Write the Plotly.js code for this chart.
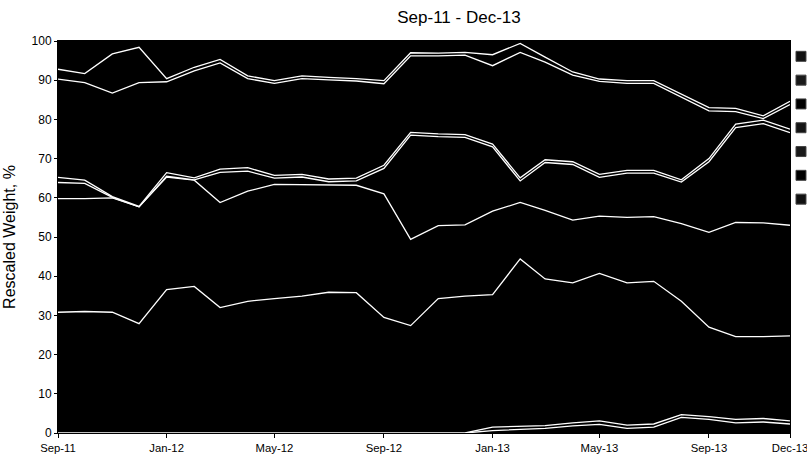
<!DOCTYPE html>
<html><head><meta charset="utf-8">
<script src="https://cdn.plot.ly/plotly-3.0.1.min.js"></script>
<style>html,body{margin:0;padding:0;background:#fff;overflow:hidden}</style>
</head><body>
<div id="chart" style="width:807px;height:456px"></div>
<script>
const months = ['2011-09-01','2011-10-01','2011-11-01','2011-12-01','2012-01-01','2012-02-01','2012-03-01','2012-04-01',
  '2012-05-01','2012-06-01','2012-07-01','2012-08-01','2012-09-01','2012-10-01','2012-11-01','2012-12-01',
  '2013-01-01','2013-02-01','2013-03-01','2013-04-01','2013-05-01','2013-06-01','2013-07-01','2013-08-01',
  '2013-09-01','2013-10-01','2013-11-01','2013-12-01'];

// series values (rescaled weight, %), bottom of the stack first
const s1 = [0,0,0,0,0,0,0,0,0,0,0,0,0,0,0,0,0.6,0.9,1.2,1.8,2.2,1.2,1.5,4.0,3.5,2.6,2.8,2.3];
const s2 = [0,0,0,0,0,0,0,0,0,0,0,0,0,0,0,0,0.9,0.9,0.7,0.8,0.9,0.8,0.8,0.7,0.7,0.9,0.9,0.8];
const s3 = [30.8,31.0,30.8,27.9,36.6,37.4,32.0,33.6,34.3,34.9,35.9,35.8,29.5,27.4,34.3,34.9,33.8,42.6,37.4,35.7,37.6,36.3,36.4,28.9,22.8,21.1,20.9,21.7];
const s4 = [29.0,28.8,29.2,29.8,28.7,27.1,26.8,28.1,29.1,28.4,27.4,27.4,31.5,22.0,18.6,18.2,21.3,14.4,17.5,16.0,14.6,16.7,16.5,19.8,24.2,29.1,29.0,28.2];
const s5 = [4.1,3.9,0.1,0.0,0.2,0.1,7.7,5.1,1.6,2.0,0.8,1.1,6.5,26.6,22.7,22.3,16.4,5.5,12.2,14.2,9.9,11.3,11.1,10.6,18.0,24.2,25.3,23.6];
const s6 = [1.3,0.8,0.2,0.1,0.9,0.5,0.8,0.9,0.7,0.7,0.7,0.7,0.8,0.7,0.7,0.7,0.7,0.8,0.7,0.7,0.8,0.7,0.7,0.6,0.8,0.9,0.9,0.9];
const s7 = [25.1,24.9,26.4,31.6,23.2,27.3,27.1,22.7,23.5,24.4,25.3,24.8,20.8,19.5,19.9,20.3,20.0,32.0,24.9,22.1,23.7,22.2,22.2,21.0,12.2,3.2,0.4,6.3];
const s8 = [2.5,2.3,10.0,9.0,0.8,0.9,0.9,0.7,0.7,0.7,0.6,0.6,0.8,0.8,0.7,0.7,2.8,2.3,1.3,0.8,0.6,0.7,0.7,0.8,0.8,0.8,0.7,0.8];
const s9 = [7.2,8.3,3.3,1.6,9.6,6.7,4.7,8.9,10.1,8.9,9.3,9.6,10.1,3.0,3.1,2.9,3.5,0.6,4.2,8.0,9.7,10.1,10.1,13.6,17.0,17.2,19.1,15.4];

// legend entries: the reference legend labels are cut off at the image edge, so no label text is shown
const legendNames = ['','','','','','',''];
const legendFills = ['#111','#000','#1a1a1a','#151515','#000','#1a1a1a','#111'];
const tickVals = ['2011-09-01','2012-01-01','2012-05-01','2012-09-01','2013-01-01','2013-05-01','2013-09-01','2013-12-01'];
const tickText = ['Sep-11','Jan-12','May-12','Sep-12','Jan-13','May-13','Sep-13','Dec-13'];

const seriesList = [s1,s2,s3,s4,s5,s6,s7,s8,s9];
const traces = seriesList.map((s,i)=>({
  type:'scatter', x:months, y:s, stackgroup:'w', mode:'lines',
  line:{color:'#ffffff', width: i===seriesList.length-1 ? 0 : 1.3},
  fillcolor:'#000000', showlegend:false, hoverinfo:'skip'
}));
legendNames.forEach((n,i)=>traces.push({
  type:'scatter', mode:'markers', x:[null], y:[null], name:n,
  marker:{symbol:'square', size:10, color:legendFills[i], line:{color:'#444', width:1}},
  hoverinfo:'skip'
}));

const layout = {
  width:807, height:456,
  margin:{l:58, r:17, t:41, b:23, autoexpand:false},
  paper_bgcolor:'#ffffff', plot_bgcolor:'#000000',
  font:{family:'Liberation Sans, Arial, sans-serif', color:'#000', size:12},
  title:{text:'Sep-11 - Dec-13', font:{size:17}, x:459/807, xref:'container', xanchor:'center',
         y:1-17.5/456, yref:'container', yanchor:'middle'},
  xaxis:{type:'date', range:[months[0], months[months.length-1]], tickmode:'array', tickvals:tickVals, ticktext:tickText,
         tickfont:{size:11.3}, ticks:'outside', ticklen:4, tickcolor:'#000', showgrid:false, zeroline:false, ticklabeloverflow:'allow',
         showline:true, linecolor:'#000', linewidth:1, mirror:true},
  yaxis:{range:[0,100], tick0:0, dtick:10, ticks:'outside', ticklen:3, tickcolor:'#000',
         showgrid:false, zeroline:false, showline:true, linecolor:'#000', linewidth:1, mirror:true,
         title:{text:'Rescaled Weight, %', font:{size:16}, standoff:11}},
  showlegend:true,
  legend:{x:0.9877, xanchor:'left', y:1.004, yanchor:'top', bgcolor:'rgba(0,0,0,0)', borderwidth:0, font:{size:16}}
};
Plotly.newPlot('chart', traces, layout, {staticPlot:true, displayModeBar:false});
</script>
</body></html>
